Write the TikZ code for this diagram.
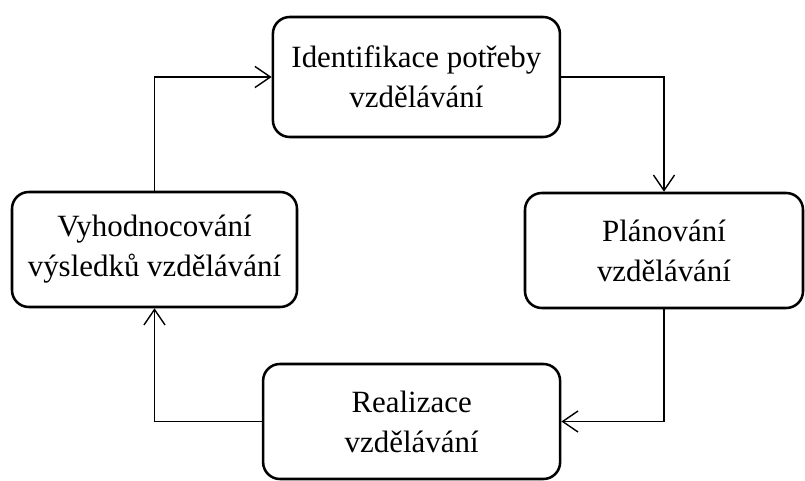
\documentclass[tikz,border=0pt]{standalone}
\usepackage{fontspec}
\setmainfont{Liberation Serif}
\usetikzlibrary{arrows.meta}

\begin{document}
\begin{tikzpicture}[
        box/.style={draw, line width=1.8pt, rounded corners=0.42cm, minimum height=2.875cm, align=center, inner sep=0pt, font=\fontsize{22}{28.5}\selectfont},
        arrow/.style={-{Straight Barb[length=11pt, width=15pt]}, line width=1pt}
    ]
        \useasboundingbox (0, 0) rectangle (20.125, 12);
        \node[box, minimum width=7.175cm, minimum height=3cm] (ident) at (10.41, 10.075) {Identifikace potřeby\\vzdělávání};
        \node[box, minimum width=6.95cm] (plan) at (16.6, 5.7375) {Plánování\\vzdělávání};
        \node[box, minimum width=7.425cm] (real) at (10.29, 1.4625) {Realizace\\vzdělávání};
        \node[box, minimum width=7.125cm] (vyh) at (3.8625, 5.7625) {Vyhodnocování\\výsledků vzdělávání};

        \draw[arrow] (vyh) |- (ident);
        \draw[arrow] (ident) -| (plan);
        \draw[arrow] (plan) |- (real);
        \draw[arrow] (real) -| (vyh);
    \end{tikzpicture}
\end{document}
